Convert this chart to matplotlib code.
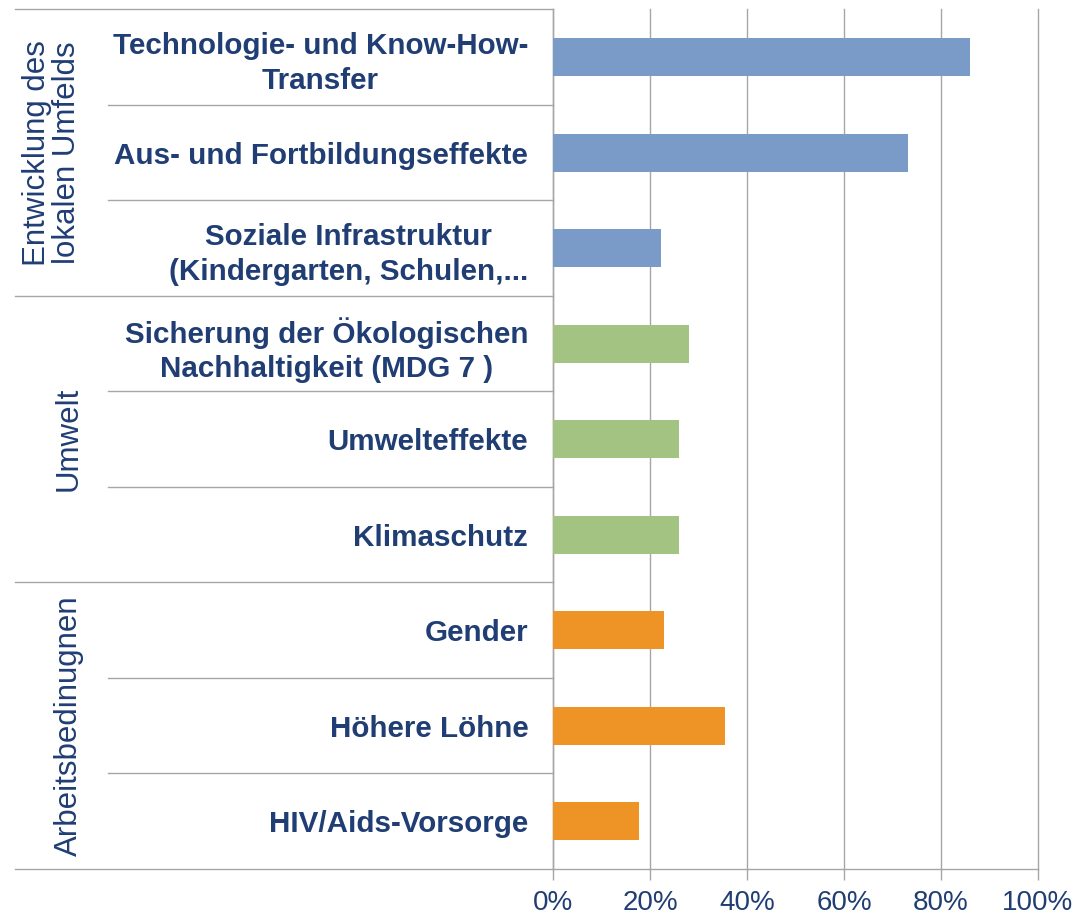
import matplotlib.pyplot as plt

plt.rcParams['font.family'] = ['Liberation Sans', 'DejaVu Sans']

kategorien = [
    'Technologie- und Know-How-\nTransfer',
    'Aus- und Fortbildungseffekte',
    'Soziale Infrastruktur\n(Kindergarten, Schulen,...',
    'Sicherung der Ökologischen\nNachhaltigkeit (MDG 7 )',
    'Umwelteffekte',
    'Klimaschutz',
    'Gender',
    'Höhere Löhne',
    'HIV/Aids-Vorsorge',
]
werte = [86.0, 73.2, 22.3, 28.0, 26.0, 25.9, 22.8, 35.5, 17.7]
gruppen = ['Entwicklung des\nlokalen Umfelds', 'Umwelt', 'Arbeitsbedinugnen']
gruppe_von = [0, 0, 0, 1, 1, 1, 2, 2, 2]
farben = ['#7A9AC8', '#A3C383', '#EE9326']
xticks = [0, 20, 40, 60, 80, 100]

navy = '#203E74'
grau = '#A6A6A6'

fig = plt.figure(figsize=(10.8, 9.18), dpi=100)
ax = fig.add_axes([0.5123, 0.0534, 0.4488, 0.9363])

y = list(range(len(kategorien)))
ax.barh(y, werte, height=0.40, color=[farben[g] for g in gruppe_von], zorder=3)

ax.set_xlim(0, 100)
ax.set_ylim(len(kategorien) - 0.5, -0.5)
ax.set_xticks(xticks)
ax.set_xticklabels([f'{t}%' for t in xticks], fontsize=20, color=navy)
ax.tick_params(axis='x', length=8, width=1, color=grau, pad=7)
ax.xaxis.grid(True, color=grau, lw=1.0, zorder=0)
for gl in ax.get_xgridlines():
    gl.set_clip_on(False)

ax.set_yticks(y)
ax.set_yticklabels(kategorien, fontsize=21.3, fontweight='bold', color=navy)
ax.tick_params(axis='y', length=0, pad=18)
for lbl in ax.get_yticklabels():
    lbl.set_multialignment('center')
    lbl.set_linespacing(1.3)

for s in ['top', 'right']:
    ax.spines[s].set_visible(False)
for s in ['left', 'bottom']:
    ax.spines[s].set_color(grau)
    ax.spines[s].set_linewidth(1.0)

# Trennlinien links (Tabelle)
tr = ax.get_yaxis_transform()
x_gruppe = -1.111
x_kat = -0.919
for i in range(len(kategorien) + 1):
    yy = i - 0.5
    if i == 0 or i == len(kategorien) or gruppe_von[i] != gruppe_von[i - 1]:
        x0 = x_gruppe
    else:
        x0 = x_kat
    ax.plot([x0, 0], [yy, yy], transform=tr, color=grau, lw=1.0, clip_on=False)

# Gruppenbeschriftungen
for g, name in enumerate(gruppen):
    idx = [i for i, gg in enumerate(gruppe_von) if gg == g]
    mitte = (idx[0] + idx[-1]) / 2
    xpos = -1.035 if '\n' in name else -1.0
    ax.text(xpos, mitte, name, transform=tr, rotation=90, ha='center', va='center',
            fontsize=22.5, color=navy, multialignment='center', linespacing=1.0)

fig.savefig('out.png', dpi=100)
